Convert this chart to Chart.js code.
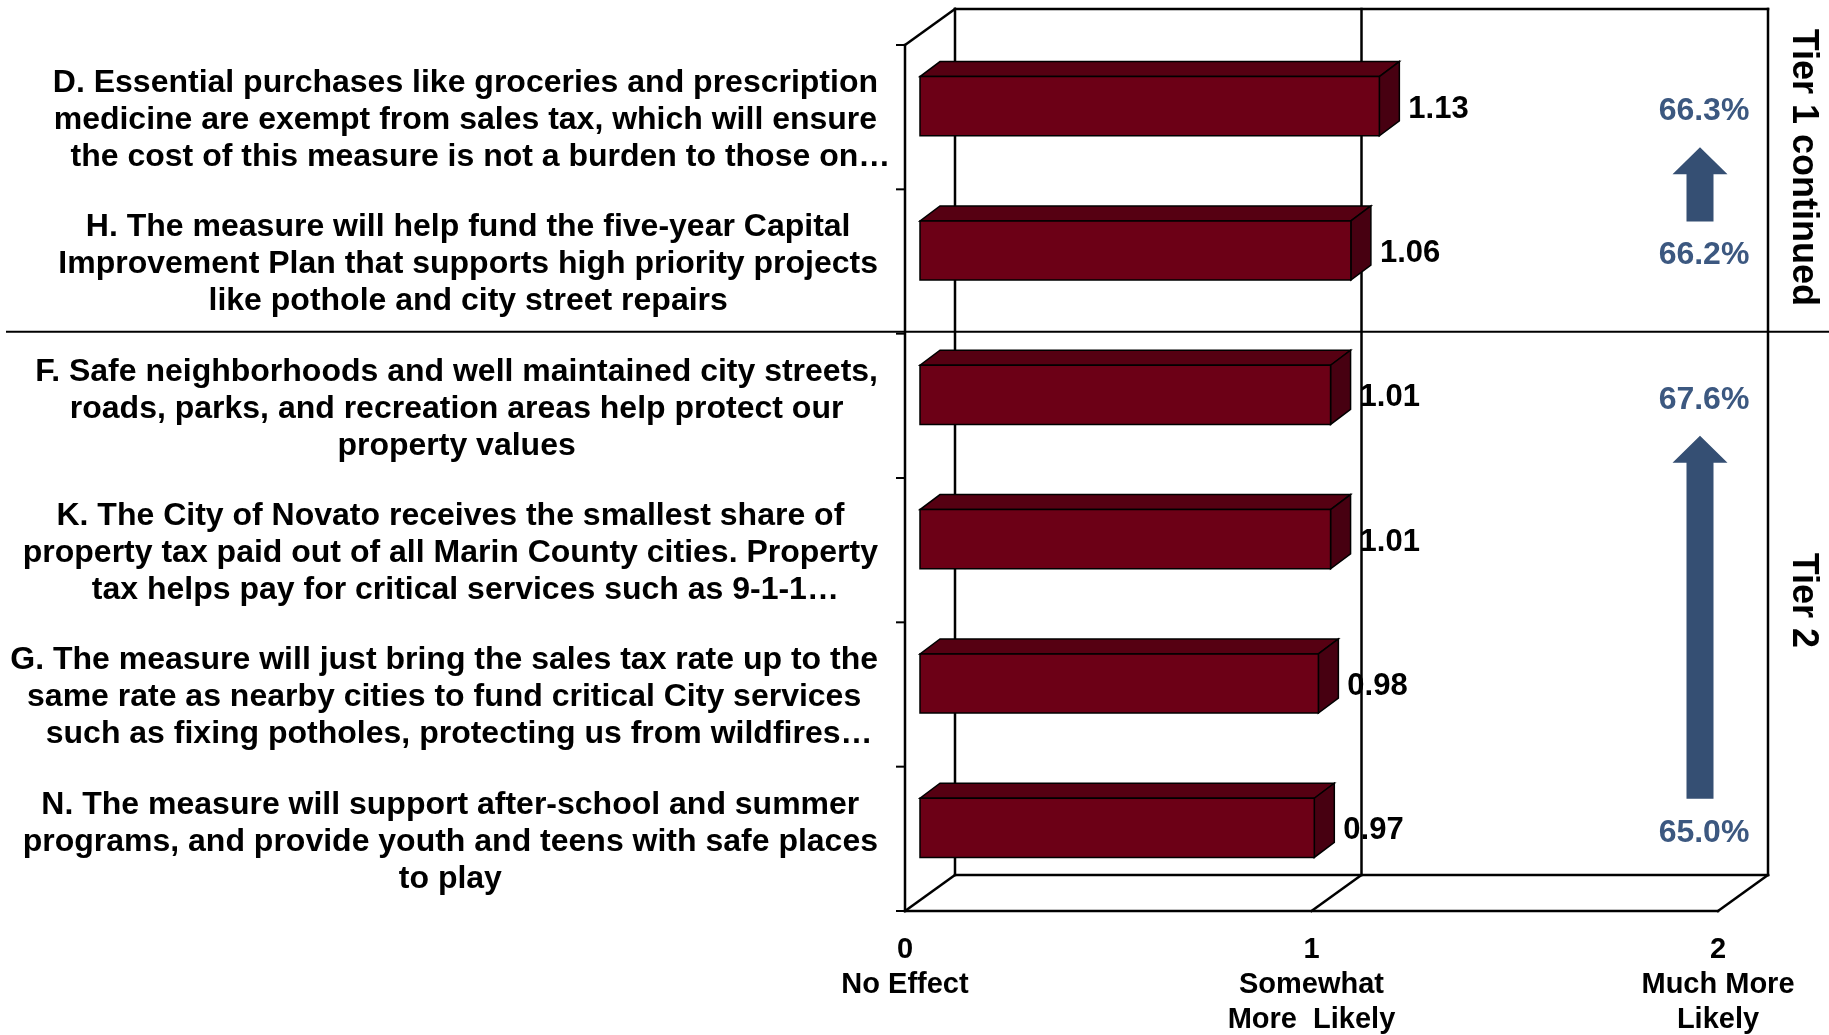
<!DOCTYPE html>
<html>
<head>
<meta charset="utf-8">
<title>Tier 1 continued / Tier 2</title>
<script src="https://cdn.jsdelivr.net/npm/chart.js@4.4.1/dist/chart.umd.min.js"></script>
<style>
    html, body { margin: 0; padding: 0; background: #ffffff; }
    canvas { display: block; }
</style>
</head>
<body>
<canvas id="effectChart" width="1829" height="1035"></canvas>
<script>
const categories = [
    ["D. Essential purchases like groceries and prescription",
     "medicine are exempt from sales tax, which will ensure",
     "the cost of this measure is not a burden to those on…"],
    ["H. The measure will help fund the five-year Capital",
     "Improvement Plan that supports high priority projects",
     "like pothole and city street repairs"],
    ["F. Safe neighborhoods and well maintained city streets,",
     "roads, parks, and recreation areas help protect our",
     "property values"],
    ["K. The City of Novato receives the smallest share of",
     "property tax paid out of all Marin County cities. Property",
     "tax helps pay for critical services such as 9-1-1…"],
    ["G. The measure will just bring the sales tax rate up to the",
     "same rate as nearby cities to fund critical City services",
     "such as fixing potholes, protecting us from wildfires…"],
    ["N. The measure will support after-school and summer",
     "programs, and provide youth and teens with safe places",
     "to play"]
];
const meanScores = [1.13, 1.06, 1.01, 1.01, 0.98, 0.97];
const pctLabels = ["66.3%", "66.2%", "67.6%", "", "", "65.0%"];
const xTickLabels = [["0", "No Effect"], ["1", "Somewhat", "More  Likely"], ["2", "Much More", "Likely"]];
const tierNames = ["Tier 1 continued", "Tier 2"];
const tierFirst = [0, 2];
const tierLast = [1, 5];

const FONT = '"Liberation Sans", Arial, sans-serif';
const BAR_FRONT = "#6c0016";
const BAR_TOP = "#560012";
const BAR_SIDE = "#470011";
const PCT_COLOR = "#3c5880";
const ARROW_COLOR = "#354f73";

// 3d offsets: wall depth, bar position inside depth, bar thickness in depth
const DEPTH_X = 50, DEPTH_Y = 36;
const BAR_X = 15, BAR_Y = 11;
const BAR_DX = 20, BAR_DY = 15;

function line(ctx, x1, y1, x2, y2) {
    ctx.beginPath();
    ctx.moveTo(x1, y1);
    ctx.lineTo(x2, y2);
    ctx.stroke();
}

function poly(ctx, pts, fill) {
    ctx.beginPath();
    ctx.moveTo(pts[0][0], pts[0][1]);
    pts.slice(1).forEach(p => ctx.lineTo(p[0], p[1]));
    ctx.closePath();
    ctx.fillStyle = fill;
    ctx.fill();
    ctx.stroke();
}

function drawArrow(ctx, cx, yTip, yEnd) {
    const headW = 55, headH = 27, shaftW = 27;
    ctx.beginPath();
    ctx.moveTo(cx, yTip);
    ctx.lineTo(cx + headW / 2, yTip + headH);
    ctx.lineTo(cx + shaftW / 2, yTip + headH);
    ctx.lineTo(cx + shaftW / 2, yEnd);
    ctx.lineTo(cx - shaftW / 2, yEnd);
    ctx.lineTo(cx - shaftW / 2, yTip + headH);
    ctx.lineTo(cx - headW / 2, yTip + headH);
    ctx.closePath();
    ctx.fillStyle = ARROW_COLOR;
    ctx.fill();
}

const frame3d = {
    id: "frame3d",
    beforeDatasetsDraw(chart) {
        const ctx = chart.ctx, ca = chart.chartArea;
        const xs = chart.scales.x;
        const vals = xs.ticks.map(t => t.value);
        const px = v => xs.getPixelForValue(v);
        const backTop = ca.top - DEPTH_Y, backBottom = ca.bottom - DEPTH_Y;

        ctx.save();
        ctx.strokeStyle = "#000";
        ctx.lineWidth = 2.5;
        ctx.lineCap = "square";

        // back wall and its gridlines
        vals.forEach(v => line(ctx, px(v) + DEPTH_X, backTop, px(v) + DEPTH_X, backBottom));
        line(ctx, px(0) + DEPTH_X, backTop, px(2) + DEPTH_X, backTop);
        line(ctx, px(0) + DEPTH_X, backBottom, px(2) + DEPTH_X, backBottom);

        // floor
        line(ctx, px(0), ca.bottom, px(2), ca.bottom);
        vals.forEach(v => line(ctx, px(v), ca.bottom, px(v) + DEPTH_X, backBottom));

        // front category axis
        line(ctx, ca.left, ca.top, ca.left, ca.bottom);
        line(ctx, ca.left, ca.top, ca.left + DEPTH_X, backTop);
        const band = (ca.bottom - ca.top) / categories.length;
        ctx.lineWidth = 2;
        for (let i = 0; i <= categories.length; i++) {
            line(ctx, ca.left - 8, ca.top + i * band, ca.left, ca.top + i * band);
        }
        ctx.restore();
    },
    afterDatasetsDraw(chart) {
        const ctx = chart.ctx, ca = chart.chartArea;
        const xs = chart.scales.x, ys = chart.scales.y;
        const bars = chart.getDatasetMeta(0).data;

        ctx.save();
        ctx.strokeStyle = "#000";
        ctx.lineWidth = 1.5;
        ctx.lineJoin = "miter";

        bars.forEach((el, i) => {
            const p = el.getProps(["x", "y", "base", "height"], true);
            const x0 = p.base + BAR_X, x1 = p.x + BAR_X;
            const y0 = p.y - p.height / 2 - BAR_Y, y1 = p.y + p.height / 2 - BAR_Y;

            poly(ctx, [[x0, y0], [x1, y0], [x1 + BAR_DX, y0 - BAR_DY], [x0 + BAR_DX, y0 - BAR_DY]], BAR_TOP);
            poly(ctx, [[x1, y0], [x1 + BAR_DX, y0 - BAR_DY], [x1 + BAR_DX, y1 - BAR_DY], [x1, y1]], BAR_SIDE);
            poly(ctx, [[x0, y0], [x1, y0], [x1, y1], [x0, y1]], BAR_FRONT);

            ctx.fillStyle = "#000";
            ctx.font = "bold 31px " + FONT;
            ctx.textAlign = "left";
            ctx.textBaseline = "middle";
            ctx.fillText(meanScores[i].toFixed(2), x1 + BAR_DX + 9, p.y - BAR_Y + 3);

            if (pctLabels[i]) {
                ctx.fillStyle = PCT_COLOR;
                ctx.font = "bold 32px " + FONT;
                ctx.textAlign = "center";
                ctx.fillText(pctLabels[i], xs.getPixelForValue(2) - 14, p.y - 6);
            }
        });

        // arrows between the first and last item of each tier
        tierFirst.forEach((a, t) => {
            drawArrow(ctx, xs.getPixelForValue(2) - 18, ys.getPixelForValue(a) + 30, ys.getPixelForValue(tierLast[t]) - 40);
        });

        // tier separator line
        const sepY = (ys.getPixelForValue(tierLast[0]) + ys.getPixelForValue(tierFirst[1])) / 2 - 2;
        ctx.strokeStyle = "#000";
        ctx.lineWidth = 2;
        line(ctx, 6, sepY, chart.width, sepY);

        // category labels, centered lines in a block ending at the axis
        ctx.fillStyle = "#000";
        ctx.font = "bold 32px " + FONT;
        ctx.textAlign = "center";
        ctx.textBaseline = "middle";
        const rightEdge = ca.left - 27;
        categories.forEach((lines, i) => {
            const w = Math.max(...lines.map(s => ctx.measureText(s).width));
            const cx = rightEdge - w / 2;
            const cy = ys.getPixelForValue(i) + 3;
            lines.forEach((s, j) => {
                // truncated lines sit a little to the right
                const shift = s.endsWith("…") ? 15 : 0;
                ctx.fillText(s, cx + shift, cy + (j - (lines.length - 1) / 2) * 37);
            });
        });

        // tier names, rotated
        ctx.font = "bold 36px " + FONT;
        tierNames.forEach((name, t) => {
            const cy = (ys.getPixelForValue(tierFirst[t]) + ys.getPixelForValue(tierLast[t])) / 2 - 22;
            ctx.save();
            ctx.translate(xs.getPixelForValue(2) + 85, cy);
            ctx.rotate(Math.PI / 2);
            ctx.fillText(name, 0, 0);
            ctx.restore();
        });
        ctx.restore();
    }
};

new Chart(document.getElementById("effectChart"), {
    type: "bar",
    data: {
        labels: categories,
        datasets: [{
            data: meanScores,
            backgroundColor: "rgba(0,0,0,0)",
            borderWidth: 0,
            barPercentage: 0.41,
            categoryPercentage: 1
        }]
    },
    options: {
        indexAxis: "y",
        responsive: false,
        animation: false,
        layout: { padding: { left: 905, right: 111, top: 45, bottom: 0 } },
        plugins: {
            legend: { display: false },
            tooltip: { enabled: false }
        },
        scales: {
            x: {
                min: 0,
                max: 2,
                grid: { display: false, drawTicks: false },
                border: { display: false },
                ticks: {
                    stepSize: 1,
                    padding: 22,
                    maxRotation: 0,
                    autoSkip: false,
                    color: "#000",
                    font: { family: FONT, size: 29, weight: "bold", lineHeight: 1.2 },
                    callback: function (value) { return xTickLabels[value]; }
                },
                afterFit: function (scale) { scale.height = 124; }
            },
            y: { display: false }
        }
    },
    plugins: [frame3d]
});
</script>
</body>
</html>
